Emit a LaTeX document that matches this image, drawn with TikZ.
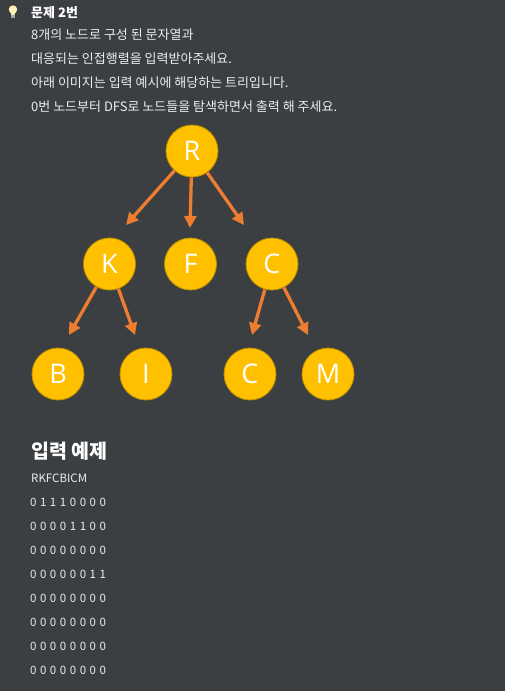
\documentclass[tikz,border=0pt]{standalone}
\usepackage{fontspec}
\setmainfont{Noto Sans CJK KR}
\newfontfamily\letterfont{Open Sans}
\usetikzlibrary{arrows.meta}
\definecolor{bgdark}{HTML}{3B3F42}
\definecolor{nodegold}{HTML}{FFC000}
\definecolor{nodeedge}{HTML}{BF9000}
\definecolor{arroworange}{HTML}{ED7D31}
\definecolor{textlight}{HTML}{EDEDED}
\definecolor{bulbglass}{HTML}{FFF1B8}
\tikzset{
  txt/.style={anchor=west, inner sep=0pt, text=textlight, font=\fontsize{13pt}{15pt}\selectfont},
  vertex/.style={circle, fill=nodegold, draw=nodeedge, line width=0.8pt, minimum size=52pt, inner sep=0pt, text=white, font=\letterfont\fontsize{27pt}{30pt}\selectfont},
  link/.style={draw=arroworange, line width=3.3pt, -{Triangle[length=12pt,width=12pt]}},
  digit/.style={inner sep=0pt, text=textlight, font=\fontsize{11.5pt}{13pt}\selectfont}
}
\begin{document}
\begin{tikzpicture}[x=1pt,y=-1pt]
    \fill[bgdark] (0,0) rectangle (505,691);
    % bulb icon
    \fill[bulbglass] (13,9.5) circle (4.2);
    \fill[bulbglass] (10.4,11) -- (15.6,11) -- (14.6,15) -- (11.4,15) -- cycle;
    \fill[gray!70] (11.4,15.4) rectangle (14.6,18.2);
    % question text
    \node[txt, text=white, font=\bfseries\fontsize{13pt}{15pt}\selectfont] (title) at (31,13) {문제 2번};
    \node[txt] (line1) at (31,35) {8개의 노드로 구성 된 문자열과};
    \node[txt] (line2) at (31,59) {대응되는 인접행렬을 입력받아주세요.};
    \node[txt] (line3) at (31,83) {아래 이미지는 입력 예시에 해당하는 트리입니다.};
    \node[txt] (line4) at (31,107) {0번 노드부터 DFS로 노드들을 탐색하면서 출력 해 주세요.};
    % tree
    \node[vertex] (R) at (192,151) {R};
    \node[vertex] (K) at (109.5,264) {K};
    \node[vertex] (F) at (190.5,264) {F};
    \node[vertex] (C) at (272,264) {C};
    \node[vertex] (B) at (58,374) {B};
    \node[vertex] (I) at (146,374) {I};
    \node[vertex] (C2) at (250,374) {C};
    \node[vertex] (M) at (328,374) {M};
    \coordinate (tK) at (126,225);
    \coordinate (tF) at (190,228);
    \coordinate (tC) at (244,225);
    \coordinate (tB) at (69,335);
    \coordinate (tI) at (135,335);
    \coordinate (tC2) at (252,335);
    \coordinate (tM) at (308,335);
    \foreach \a/\b in {R/tK, R/tF, R/tC, K/tB, K/tI, C/tC2, C/tM}
        \draw[link] (\a) -- (\b);
    % input example
    \node[txt, text=white, font=\bfseries\fontsize{19.5pt}{22pt}\selectfont] (example) at (31,451) {입력 예제};
    \node[txt, font=\fontsize{11.5pt}{13pt}\selectfont] (letters) at (31,478) {RKFCBICM};
    \foreach \row [count=\r] in {{0,1,1,1,0,0,0,0},{0,0,0,0,1,1,0,0},{0,0,0,0,0,0,0,0},{0,0,0,0,0,0,1,1},
                                 {0,0,0,0,0,0,0,0},{0,0,0,0,0,0,0,0},{0,0,0,0,0,0,0,0},{0,0,0,0,0,0,0,0}}
        \foreach \d [count=\c] in \row
            \node[digit] (d\r-\c) at ({33.3+9.93*(\c-1)},{478.5+24*\r}) {\d};
\end{tikzpicture}
\end{document}
